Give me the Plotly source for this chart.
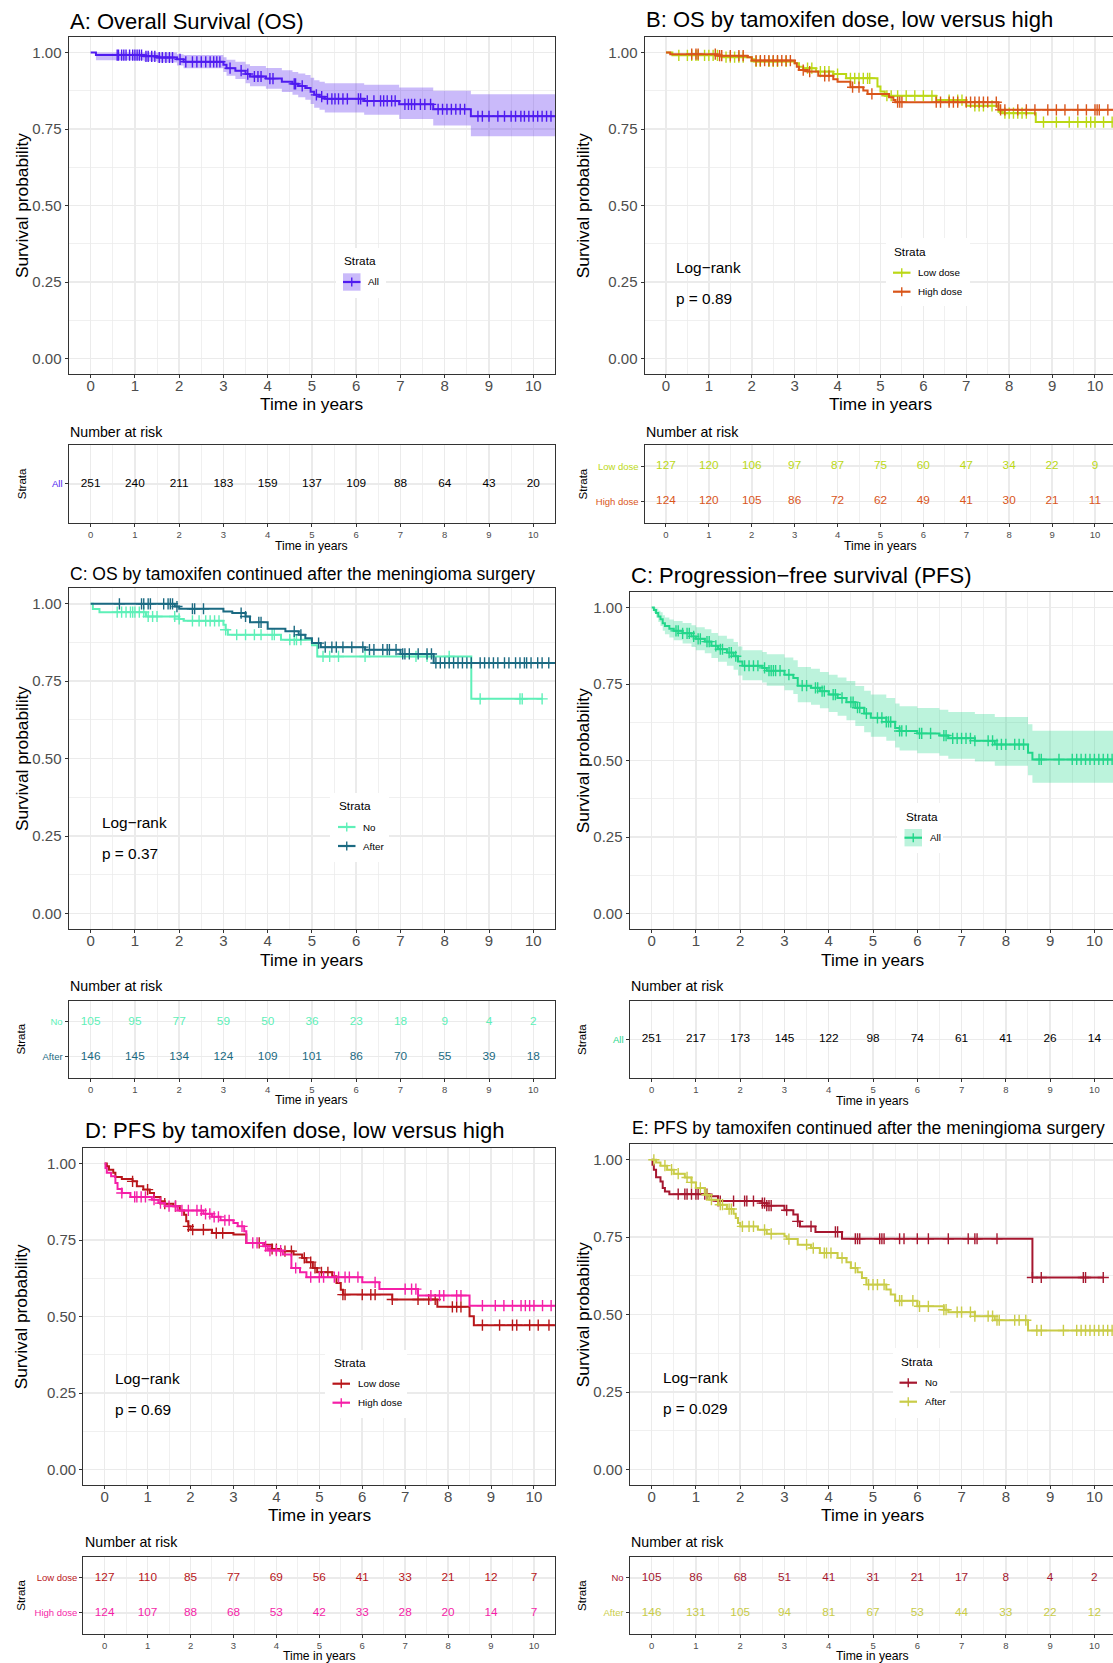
import numpy as np
import plotly.graph_objects as go

W, H = 1113, 1663
FONT = "Liberation Sans, Arial, Helvetica, sans-serif"

YEARS = list(range(11))
Y_TICKS = [0, 0.25, 0.5, 0.75, 1.0]
Y_LABELS = ["0.00", "0.25", "0.50", "0.75", "1.00"]

# ---------------- Panel A: Overall survival ----------------
A_t = [0.12, 1.2, 1.5, 1.95, 2.1, 3.0, 3.07, 3.27, 3.5, 3.6, 3.96, 4.32, 4.56, 4.69, 4.85, 4.97, 5.05, 5.17, 5.29, 6.18, 6.97, 7.74, 8.59]
A_s = [0.992, 0.988, 0.984, 0.978, 0.970, 0.960, 0.949, 0.941, 0.930, 0.922, 0.915, 0.905, 0.898, 0.891, 0.884, 0.872, 0.862, 0.856, 0.849, 0.842, 0.831, 0.815, 0.792]
A_lo = [0.975, 0.972, 0.968, 0.958, 0.949, 0.937, 0.924, 0.914, 0.900, 0.890, 0.882, 0.871, 0.862, 0.854, 0.846, 0.832, 0.820, 0.813, 0.804, 0.797, 0.783, 0.762, 0.727]
A_hi = [1.0, 1.0, 1.0, 0.995, 0.992, 0.985, 0.977, 0.970, 0.962, 0.956, 0.950, 0.942, 0.937, 0.932, 0.927, 0.918, 0.910, 0.905, 0.900, 0.895, 0.886, 0.875, 0.864]
A_cens = [0.6, 0.63, 0.7, 0.75, 0.8, 0.88, 0.95, 1.0, 1.05, 1.1, 1.15, 1.25, 1.3, 1.38, 1.45, 1.55, 1.62, 1.7, 1.78, 1.85, 2.02, 2.15, 2.3, 2.4, 2.5, 2.6, 2.7, 2.78, 2.85, 2.92, 3.15, 3.4, 3.55, 3.7, 3.78, 3.85, 4.05, 4.12, 4.6, 4.63, 4.78, 5.1, 5.22, 5.35, 5.45, 5.52, 5.6, 5.7, 5.8, 6.05, 6.1, 6.25, 6.4, 6.55, 6.62, 6.7, 6.8, 6.88, 7.1, 7.18, 7.25, 7.32, 7.45, 7.55, 7.68, 7.85, 7.95, 8.05, 8.15, 8.25, 8.35, 8.45, 8.75, 8.85, 9.0, 9.2, 9.35, 9.5, 9.6, 9.72, 9.8, 9.9, 10.0, 10.1, 10.2, 10.3, 10.4]
A_end = 10.8
A_risk = [251, 240, 211, 183, 159, 137, 109, 88, 64, 43, 20]

# ---------------- Panel B: OS by dose ----------------
B_low_t = [0.15, 1.3, 2.0, 2.05, 3.0, 3.1, 3.2, 3.5, 3.9, 4.2, 4.93, 5.0, 5.1, 6.3, 7.0, 7.75, 7.85, 8.62]
B_low_s = [0.991, 0.985, 0.978, 0.971, 0.965, 0.954, 0.949, 0.938, 0.930, 0.916, 0.889, 0.873, 0.859, 0.845, 0.826, 0.807, 0.802, 0.773]
B_low_cens = [0.3, 0.5, 0.6, 0.7, 0.75, 0.9, 1.0, 1.1, 1.2, 1.4, 1.5, 1.6, 1.7, 1.8, 2.1, 2.2, 2.4, 2.5, 2.6, 2.8, 3.3, 3.4, 3.6, 3.7, 3.8, 4.0, 4.3, 4.4, 4.5, 4.6, 4.7, 4.75, 5.15, 5.25, 5.4, 5.6, 5.8, 6.0, 6.2, 6.6, 6.8, 6.9, 7.2, 7.3, 7.4, 7.6, 7.9, 8.0, 8.1, 8.2, 8.3, 8.4, 8.8, 9.1, 9.4, 9.6, 9.8, 9.9, 10.0, 10.2, 10.4]
B_low_end = 10.6
B_high_t = [0.1, 1.2, 1.9, 2.0, 3.0, 3.05, 3.1, 3.3, 3.55, 3.9, 4.0, 4.3, 4.6, 4.7, 5.2, 5.3, 5.35, 7.75]
B_high_s = [0.995, 0.990, 0.985, 0.974, 0.965, 0.954, 0.943, 0.938, 0.924, 0.913, 0.905, 0.887, 0.876, 0.865, 0.854, 0.845, 0.838, 0.813]
B_high_cens = [0.6, 0.7, 0.75, 1.15, 1.25, 1.3, 1.5, 1.7, 1.8, 2.1, 2.2, 2.3, 2.4, 2.5, 2.6, 2.7, 2.8, 2.9, 3.2, 3.35, 3.7, 3.8, 4.35, 4.5, 4.8, 5.4, 5.45, 5.5, 6.3, 6.4, 6.6, 6.7, 6.8, 7.0, 7.1, 7.2, 7.3, 7.4, 7.5, 7.7, 7.8, 7.9, 8.2, 8.4, 8.6, 8.9, 9.1, 9.3, 9.6, 9.8, 10.0, 10.05, 10.1, 10.3]
B_high_end = 10.6
B_low_risk = [127, 120, 106, 97, 87, 75, 60, 47, 34, 22, 9]
B_high_risk = [124, 120, 105, 86, 72, 62, 49, 41, 30, 21, 11]

# ---------------- Panel C (left): OS by continuation ----------------
C_no_t = [0.05, 0.2, 1.25, 2.0, 2.1, 3.0, 3.05, 3.1, 4.3, 5.0, 5.12, 8.6]
C_no_s = [0.983, 0.973, 0.959, 0.951, 0.945, 0.932, 0.916, 0.900, 0.884, 0.866, 0.830, 0.693]
C_no_cens = [0.6, 0.7, 0.8, 0.9, 0.95, 1.0, 1.1, 1.2, 1.3, 1.4, 1.5, 1.9, 2.0, 2.3, 2.45, 2.6, 2.7, 2.8, 2.9, 3.05, 3.3, 3.5, 3.7, 3.85, 4.1, 4.15, 4.5, 4.6, 4.65, 4.75, 5.25, 5.4, 5.6, 6.2, 7.35, 7.6, 8.1, 8.8, 9.7, 9.75, 10.2]
C_no_end = 10.2
C_after_t = [1.9, 2.0, 3.0, 3.2, 3.5, 3.6, 4.0, 4.4, 4.7, 4.85, 5.0, 5.2, 6.2, 7.0, 7.75]
C_after_s = [0.991, 0.984, 0.975, 0.970, 0.959, 0.940, 0.919, 0.911, 0.900, 0.889, 0.873, 0.860, 0.852, 0.838, 0.809]
C_after_cens = [0.65, 1.15, 1.2, 1.3, 1.35, 1.65, 1.75, 1.8, 1.85, 1.95, 2.3, 2.35, 2.55, 3.4, 3.5, 3.8, 3.85, 4.6, 4.75, 5.15, 5.3, 5.45, 5.55, 5.7, 5.9, 6.15, 6.3, 6.4, 6.6, 6.7, 6.75, 6.9, 7.05, 7.1, 7.2, 7.4, 7.6, 7.7, 7.8, 7.9, 8.0, 8.1, 8.2, 8.3, 8.4, 8.5, 8.6, 8.8, 8.9, 9.0, 9.1, 9.2, 9.35, 9.45, 9.6, 9.7, 9.8, 9.85, 9.95, 10.1, 10.2, 10.35]
C_after_end = 10.8
C_no_risk = [105, 95, 77, 59, 50, 36, 23, 18, 9, 4, 2]
C_after_risk = [146, 145, 134, 124, 109, 101, 86, 70, 55, 39, 18]

# ---------------- Panel C (right): PFS overall ----------------
P_t = [0.05, 0.1, 0.15, 0.2, 0.25, 0.3, 0.4, 0.5, 0.7, 0.9, 1.0, 1.2, 1.35, 1.5, 1.7, 1.85, 1.95, 2.05, 2.5, 2.6, 3.0, 3.2, 3.3, 3.6, 3.8, 4.0, 4.2, 4.4, 4.6, 4.8, 4.95, 5.3, 5.5, 5.6, 6.0, 6.5, 6.7, 7.3, 7.75, 8.5, 8.6]
P_s = [0.992, 0.982, 0.971, 0.962, 0.949, 0.940, 0.931, 0.924, 0.916, 0.906, 0.898, 0.889, 0.875, 0.864, 0.853, 0.841, 0.824, 0.810, 0.803, 0.794, 0.781, 0.770, 0.745, 0.738, 0.727, 0.716, 0.705, 0.691, 0.673, 0.654, 0.640, 0.627, 0.607, 0.597, 0.589, 0.582, 0.573, 0.565, 0.553, 0.526, 0.504]
P_lo = [0.982, 0.968, 0.953, 0.940, 0.924, 0.913, 0.902, 0.893, 0.883, 0.871, 0.861, 0.851, 0.835, 0.823, 0.810, 0.797, 0.778, 0.763, 0.755, 0.745, 0.730, 0.718, 0.691, 0.683, 0.671, 0.659, 0.647, 0.632, 0.613, 0.593, 0.578, 0.565, 0.543, 0.533, 0.524, 0.516, 0.506, 0.497, 0.483, 0.452, 0.428]
P_hi = [1.0, 0.997, 0.990, 0.985, 0.975, 0.968, 0.961, 0.956, 0.950, 0.942, 0.936, 0.929, 0.917, 0.908, 0.898, 0.888, 0.873, 0.861, 0.855, 0.848, 0.837, 0.828, 0.806, 0.800, 0.790, 0.781, 0.772, 0.760, 0.744, 0.728, 0.716, 0.705, 0.687, 0.678, 0.672, 0.666, 0.659, 0.652, 0.643, 0.619, 0.598]
P_cens = [0.55, 0.6, 0.7, 0.8, 0.85, 0.95, 1.05, 1.1, 1.25, 1.3, 1.45, 1.55, 1.6, 1.75, 1.8, 1.9, 2.1, 2.2, 2.3, 2.4, 2.55, 2.65, 2.7, 2.75, 2.8, 2.9, 3.1, 3.4, 3.5, 3.7, 3.75, 3.85, 3.9, 4.1, 4.15, 4.3, 4.5, 4.55, 4.65, 4.7, 4.85, 5.1, 5.2, 5.3, 5.35, 5.4, 5.6, 5.65, 5.75, 6.05, 6.1, 6.3, 6.6, 6.65, 6.8, 6.9, 7.0, 7.1, 7.2, 7.3, 7.6, 7.7, 7.8, 7.9, 8.0, 8.2, 8.3, 8.4, 8.75, 8.8, 9.2, 9.5, 9.6, 9.7, 9.8, 9.9, 10.0, 10.1, 10.2, 10.3, 10.4]
P_end = 10.8
P_risk = [251, 217, 173, 145, 122, 98, 74, 61, 41, 26, 14]

# ---------------- Panel D: PFS by dose ----------------
D_low_t = [0.05, 0.1, 0.2, 0.25, 0.4, 0.65, 0.75, 0.9, 1.05, 1.15, 1.3, 1.4, 1.6, 1.75, 1.85, 1.9, 1.95, 2.0, 2.5, 3.0, 3.3, 3.7, 3.9, 4.1, 4.4, 4.6, 4.7, 4.85, 4.95, 5.3, 5.4, 5.5, 5.55, 6.7, 7.75, 8.5, 8.6]
D_low_s = [0.991, 0.980, 0.970, 0.956, 0.950, 0.942, 0.926, 0.915, 0.904, 0.891, 0.877, 0.869, 0.861, 0.847, 0.833, 0.812, 0.795, 0.784, 0.773, 0.768, 0.741, 0.735, 0.721, 0.714, 0.703, 0.692, 0.678, 0.659, 0.645, 0.632, 0.610, 0.588, 0.572, 0.556, 0.532, 0.501, 0.472]
D_low_cens = [0.65, 1.0, 1.4, 1.65, 1.95, 2.05, 2.3, 2.6, 2.75, 3.6, 3.9, 4.0, 4.2, 4.35, 4.65, 4.8, 4.9, 5.05, 5.2, 5.55, 5.6, 6.0, 6.2, 6.3, 6.7, 7.3, 7.55, 7.7, 8.1, 8.2, 8.3, 8.8, 9.2, 9.5, 9.6, 9.9, 10.1, 10.35]
D_low_end = 10.6
D_high_t = [0.02, 0.05, 0.15, 0.25, 0.3, 0.4, 0.6, 1.1, 1.25, 1.4, 1.7, 2.3, 2.5, 2.7, 3.0, 3.1, 3.25, 3.3, 3.7, 3.8, 4.15, 4.35, 4.55, 4.7, 6.0, 6.4, 7.3, 8.5]
D_high_s = [0.986, 0.970, 0.959, 0.937, 0.917, 0.904, 0.891, 0.882, 0.871, 0.861, 0.847, 0.836, 0.826, 0.815, 0.806, 0.795, 0.779, 0.741, 0.730, 0.716, 0.703, 0.659, 0.645, 0.629, 0.612, 0.590, 0.569, 0.536]
D_high_cens = [0.4, 0.7, 0.75, 0.85, 0.95, 1.15, 1.3, 1.5, 1.65, 1.8, 1.95, 2.15, 2.25, 2.35, 2.45, 2.55, 2.65, 2.8, 2.9, 3.2, 3.45, 3.55, 3.75, 3.85, 4.0, 4.1, 4.45, 4.8, 5.0, 5.1, 5.35, 5.45, 5.6, 5.7, 5.9, 6.3, 7.0, 7.15, 7.25, 7.6, 7.8, 7.9, 8.2, 8.3, 8.8, 9.1, 9.3, 9.5, 9.7, 9.8, 9.9, 10.0, 10.2, 10.4]
D_high_end = 10.6
D_low_risk = [127, 110, 85, 77, 69, 56, 41, 33, 21, 12, 7]
D_high_risk = [124, 107, 88, 68, 53, 42, 33, 28, 20, 14, 7]

# ---------------- Panel E: PFS by continuation ----------------
E_no_t = [0.02, 0.05, 0.1, 0.2, 0.25, 0.3, 0.4, 1.3, 1.5, 2.5, 2.6, 3.0, 3.2, 3.3, 3.35, 3.7, 4.3, 8.6]
E_no_s = [0.984, 0.968, 0.944, 0.930, 0.909, 0.898, 0.889, 0.882, 0.867, 0.860, 0.852, 0.837, 0.823, 0.801, 0.785, 0.767, 0.745, 0.620]
E_no_cens = [0.6, 0.75, 0.8, 0.9, 1.0, 1.05, 1.2, 1.25, 1.5, 1.55, 1.85, 2.1, 2.15, 2.3, 2.5, 2.55, 2.6, 2.65, 2.7, 3.05, 3.3, 3.6, 4.15, 4.2, 4.6, 4.65, 4.7, 5.15, 5.2, 5.25, 5.6, 5.7, 6.0, 6.25, 6.7, 7.15, 7.3, 7.35, 7.8, 8.6, 8.8, 9.75, 9.8, 10.2]
E_no_end = 10.2
E_after_t = [0.1, 0.2, 0.35, 0.5, 0.75, 0.9, 1.0, 1.2, 1.3, 1.5, 1.7, 1.85, 1.9, 1.95, 2.0, 2.4, 2.6, 3.0, 3.05, 3.3, 3.6, 3.8, 4.2, 4.4, 4.5, 4.65, 4.75, 4.85, 5.3, 5.4, 5.5, 6.0, 6.6, 6.7, 7.3, 7.75, 8.5]
E_after_s = [0.991, 0.981, 0.968, 0.955, 0.943, 0.927, 0.909, 0.887, 0.871, 0.855, 0.841, 0.826, 0.812, 0.796, 0.785, 0.774, 0.761, 0.753, 0.744, 0.726, 0.715, 0.699, 0.683, 0.669, 0.651, 0.637, 0.618, 0.597, 0.581, 0.565, 0.545, 0.527, 0.516, 0.508, 0.495, 0.482, 0.449]
E_after_cens = [0.05, 0.3, 0.45, 0.6, 0.8, 0.9, 1.1, 1.25, 1.35, 1.55, 1.6, 1.75, 1.8, 2.05, 2.2, 2.3, 2.55, 2.7, 3.1, 3.5, 3.65, 3.9, 3.95, 4.05, 4.3, 4.6, 4.9, 5.0, 5.1, 5.25, 5.6, 5.65, 5.9, 6.05, 6.25, 6.6, 6.65, 6.9, 7.0, 7.2, 7.3, 7.6, 7.7, 7.8, 7.85, 8.2, 8.3, 8.45, 8.7, 8.8, 9.3, 9.6, 9.7, 9.8, 9.9, 10.0, 10.1, 10.2, 10.3, 10.4]
E_after_end = 10.6
E_no_risk = [105, 86, 68, 51, 41, 31, 21, 17, 8, 4, 2]
E_after_risk = [146, 131, 105, 94, 81, 67, 53, 44, 33, 22, 12]

# ---------------- colours ----------------
COL_A = "#4F1BF0"
COL_B_LOW, COL_B_HIGH = "#BBD816", "#D9551A"
COL_C_NO, COL_C_AFTER = "#5EF0B8", "#1B6A82"
COL_P = "#22D68A"
COL_D_LOW, COL_D_HIGH = "#B8161A", "#F51FA8"
COL_E_NO, COL_E_AFTER = "#A6172F", "#C9CC48"

GRID = "#EBEBEB"
BORDER = "#333333"
TICKC = "#4D4D4D"

fig = go.Figure()
ANN, SHP = [], []


def fx(p):
    return p / W


def fy(p):
    return 1 - p / H


def names(n):
    s = "" if n == 1 else str(n)
    return "x" + s, "y" + s, "xaxis" + s, "yaxis" + s


def hexrgba(h, a):
    h = h.lstrip("#")
    return f"rgba({int(h[0:2],16)},{int(h[2:4],16)},{int(h[4:6],16)},{a})"


def setup(n, x0, x1, y0, y1, xmax, right, yrange, yvals, ytext, xfont, yfont, yminor, xstand):
    xa, ya, xk, yk = names(n)
    xaxis = dict(domain=[fx(x0), fx(x1)], range=[-0.5, xmax], anchor=ya,
                 tickmode="array", tickvals=YEARS, ticktext=[str(v) for v in YEARS],
                 ticks="outside", ticklen=3, tickwidth=1, tickcolor=BORDER,
                 ticklabelstandoff=xstand,
                 showline=True, linecolor=BORDER, linewidth=1, mirror=True,
                 showgrid=True, gridcolor=GRID, gridwidth=1.5, zeroline=False,
                 tickfont=dict(family=FONT, size=xfont, color=TICKC),
                 minor=dict(tickmode="array", tickvals=[i + 0.5 for i in range(-1, 11)],
                            showgrid=True, gridcolor=GRID, gridwidth=0.75, ticks=""),
                 fixedrange=True)
    yaxis = dict(domain=[fy(y1), fy(y0)], range=yrange, anchor=xa,
                 tickmode="array", tickvals=yvals, ticktext=ytext,
                 ticks="outside", ticklen=3, tickwidth=1, tickcolor=BORDER,
                 showline=True, linecolor=BORDER, linewidth=1, mirror=(not right),
                 showgrid=True, gridcolor=GRID, gridwidth=1.5, zeroline=False,
                 tickfont=dict(family=FONT, size=yfont, color=TICKC), fixedrange=True)
    if yminor:
        yaxis["minor"] = dict(tickmode="array", tickvals=yminor, showgrid=True,
                              gridcolor=GRID, gridwidth=0.75, ticks="")
    fig.update_layout(**{xk: xaxis, yk: yaxis})


def km(n, times, surv, cens, end, color, lo=None, hi=None):
    xa, ya, _, _ = names(n)
    xs = [0] + list(times) + [end]
    if lo is not None:
        fig.add_trace(go.Scatter(x=xs, y=[1] + list(lo) + [lo[-1]], mode="lines",
                                 line=dict(width=0, shape="hv"), xaxis=xa, yaxis=ya,
                                 showlegend=False, hoverinfo="skip"))
        fig.add_trace(go.Scatter(x=xs, y=[1] + list(hi) + [hi[-1]], mode="lines",
                                 line=dict(width=0, shape="hv"), fill="tonexty",
                                 fillcolor=hexrgba(color, 0.3), xaxis=xa, yaxis=ya,
                                 showlegend=False, hoverinfo="skip"))
    fig.add_trace(go.Scatter(x=xs, y=[1] + list(surv) + [surv[-1]], mode="lines",
                             line=dict(color=color, width=2, shape="hv"),
                             xaxis=xa, yaxis=ya, showlegend=False, hoverinfo="skip"))
    tarr = np.array(times)
    cy = []
    for c in cens:
        i = int(np.searchsorted(tarr, c, side="right"))
        cy.append(1.0 if i == 0 else surv[i - 1])
    fig.add_trace(go.Scatter(x=cens, y=cy, mode="markers",
                             marker=dict(symbol="cross-thin", size=8, color=color,
                                         line=dict(width=1.4, color=color)),
                             xaxis=xa, yaxis=ya, showlegend=False, hoverinfo="skip"))


def text(x, y, s, size, color="black", xanchor="left", angle=0):
    ANN.append(dict(x=fx(x), y=fy(y), xref="paper", yref="paper", text=s,
                    showarrow=False, xanchor=xanchor, yanchor="middle", textangle=angle,
                    borderpad=0, font=dict(family=FONT, size=size, color=color)))


def risk(n, rows, num_colors):
    xa, ya, _, _ = names(n)
    k = len(rows)
    for i, vals in enumerate(rows):
        fig.add_trace(go.Scatter(x=YEARS, y=[k - i] * len(YEARS), mode="text",
                                 text=[str(v) for v in vals],
                                 textfont=dict(family=FONT, size=11.8, color=num_colors[i]),
                                 xaxis=xa, yaxis=ya, showlegend=False, hoverinfo="skip"))


def legend(xl, yt, items, ribbon=None, bg=None):
    if bg:
        SHP.append(dict(type="rect", xref="paper", yref="paper", x0=fx(bg[0]), x1=fx(bg[1]),
                        y0=fy(bg[3]), y1=fy(bg[2]), fillcolor="white", line=dict(width=0),
                        layer="above"))
    text(xl, yt, "Strata", 11.8)
    for i, (lab, col) in enumerate(items):
        yy = yt + 21 + 19 * i
        if ribbon:
            SHP.append(dict(type="rect", xref="paper", yref="paper", x0=fx(xl), x1=fx(xl + 17.5),
                            y0=fy(yy + 8.7), y1=fy(yy - 8.7), fillcolor=ribbon,
                            line=dict(width=0), layer="above"))
        SHP.append(dict(type="line", xref="paper", yref="paper", x0=fx(xl), x1=fx(xl + 17.5),
                        y0=fy(yy), y1=fy(yy), line=dict(color=col, width=2.2), layer="above"))
        SHP.append(dict(type="line", xref="paper", yref="paper", x0=fx(xl + 8.75), x1=fx(xl + 8.75),
                        y0=fy(yy - 4.5), y1=fy(yy + 4.5), line=dict(color=col, width=1.4),
                        layer="above"))
        text(xl + 24, yy, lab, 9.8)


def span(lab, col):
    return f'<span style="color:{col}">{lab}</span>'


YMINOR = [0.125, 0.375, 0.625, 0.875]
XR_L, XR_R = 10.5, 10.42

# ---------- main panels ----------
main_geo = {
    1: (68.5, 555.4, 37.3, 374.0, XR_L, False),
    2: (644.5, 1113, 37.3, 374.0, XR_R, True),
    3: (68.5, 555.4, 588.3, 929.0, XR_L, False),
    4: (629.5, 1113, 592.3, 929.0, XR_R, True),
    5: (83.2, 555.4, 1148.3, 1485.0, XR_L, False),
    6: (629.5, 1113, 1144.3, 1485.0, XR_R, True),
}
for n, (x0, x1, y0, y1, xm, right) in main_geo.items():
    setup(n, x0, x1, y0, y1, xm, right, [-0.05, 1.05], Y_TICKS, Y_LABELS, 15, 15, YMINOR, -5)

km(1, A_t, A_s, A_cens, A_end, COL_A, A_lo, A_hi)
km(2, B_low_t, B_low_s, B_low_cens, B_low_end, COL_B_LOW)
km(2, B_high_t, B_high_s, B_high_cens, B_high_end, COL_B_HIGH)
km(3, C_no_t, C_no_s, C_no_cens, C_no_end, COL_C_NO)
km(3, C_after_t, C_after_s, C_after_cens, C_after_end, COL_C_AFTER)
km(4, P_t, P_s, P_cens, P_end, COL_P, P_lo, P_hi)
km(5, D_low_t, D_low_s, D_low_cens, D_low_end, COL_D_LOW)
km(5, D_high_t, D_high_s, D_high_cens, D_high_end, COL_D_HIGH)
km(6, E_no_t, E_no_s, E_no_cens, E_no_end, COL_E_NO)
km(6, E_after_t, E_after_s, E_after_cens, E_after_end, COL_E_AFTER)

# ---------- risk tables ----------
risk_geo = {
    7: (68.5, 555.4, 445.0, 522.7, XR_L, False, ["All"], [COL_A]),
    8: (644.5, 1113, 445.0, 522.7, XR_R, True, ["Low dose", "High dose"], [COL_B_LOW, COL_B_HIGH]),
    9: (68.5, 555.4, 1000.7, 1077.7, XR_L, False, ["No", "After"], [COL_C_NO, COL_C_AFTER]),
    10: (629.5, 1113, 1000.7, 1078.0, XR_R, True, ["All"], [COL_P]),
    11: (83.2, 555.4, 1556.7, 1634.0, XR_L, False, ["Low dose", "High dose"], [COL_D_LOW, COL_D_HIGH]),
    12: (629.5, 1113, 1556.7, 1634.0, XR_R, True, ["No", "After"], [COL_E_NO, COL_E_AFTER]),
}
for n, (x0, x1, y0, y1, xm, right, labs, cols) in risk_geo.items():
    k = len(labs)
    setup(n, x0, x1, y0, y1, xm, right, [0.4, k + 0.6], [k - i for i in range(k)],
          [span(l, c) for l, c in zip(labs, cols)], 9.5, 9.5, None, 0)

risk(7, [A_risk], ["black"])
risk(8, [B_low_risk, B_high_risk], [COL_B_LOW, COL_B_HIGH])
risk(9, [C_no_risk, C_after_risk], [COL_C_NO, COL_C_AFTER])
risk(10, [P_risk], ["black"])
risk(11, [D_low_risk, D_high_risk], [COL_D_LOW, COL_D_HIGH])
risk(12, [E_no_risk, E_after_risk], [COL_E_NO, COL_E_AFTER])

# ---------- titles ----------
text(69, 21, "A: Overall Survival (OS)", 22)
text(644.8, 20, "B: OS by tamoxifen dose, low versus high", 22)
text(69, 574.5, "C: OS by tamoxifen continued after the meningioma surgery", 17.5)
text(630, 575, "C: Progression\u2212free survival (PFS)", 22)
text(84, 1130.7, "D: PFS by tamoxifen dose, low versus high", 22)
text(630.6, 1128.3, "E: PFS by tamoxifen continued after the meningioma surgery", 17.5)

# axis titles for main panels
full_x = {1: (68.5, 555.4), 2: (644.5, 1116.3), 3: (68.5, 555.4), 4: (629.5, 1116.0),
          5: (83.2, 555.4), 6: (629.5, 1116.0)}
xtitle_y = {1: 404, 2: 404, 3: 959.5, 4: 959.5, 5: 1514.5, 6: 1514.5}
ytitle_x = {1: 21.4, 2: 582.6, 3: 21.4, 4: 582.6, 5: 20.7, 6: 582.6}
for n in range(1, 7):
    x0, x1 = full_x[n]
    y0, y1 = main_geo[n][2], main_geo[n][3]
    text((x0 + x1) / 2, xtitle_y[n], "Time in years", 17.3, xanchor="center")
    text(ytitle_x[n], (y0 + y1) / 2, "Survival probability", 17.3, xanchor="center", angle=-90)

# risk table titles
risk_full_x = {7: (68.5, 555.4), 8: (644.5, 1116.3), 9: (68.5, 555.4), 10: (629.5, 1116.0),
               11: (83.2, 555.4), 12: (629.5, 1116.0)}
risk_title_y = {7: 431.7, 8: 431.7, 9: 986, 10: 986, 11: 1542.3, 12: 1542.3}
risk_xt_y = {7: 546, 8: 546, 9: 1100, 10: 1100.5, 11: 1656.0, 12: 1656.0}
strata_x = {7: 21.4, 8: 582.6, 9: 21.4, 10: 582.6, 11: 21.4, 12: 582.6}
for n in range(7, 13):
    x0, x1 = risk_full_x[n]
    y0, y1 = risk_geo[n][2], risk_geo[n][3]
    text(x0 + 0.5, risk_title_y[n], "Number at risk", 14.2)
    text((x0 + x1) / 2, risk_xt_y[n], "Time in years", 12.2, xanchor="center")
    text(strata_x[n], (y0 + y1) / 2, "Strata", 11.5, xanchor="center", angle=-90)

# log-rank annotations
for (x, y1, y2, p) in [(675, 267.7, 298.3, "p = 0.89"), (100.7, 822.3, 853.3, "p = 0.37"),
                       (113.6, 1378.3, 1409.3, "p = 0.69"), (661.5, 1377.3, 1408.3, "p = 0.029")]:
    text(x, y1, "Log\u2212rank", 15.4)
    text(x, y2, p, 15.4)

# legends
legend(343, 261, [("All", COL_A)], ribbon=hexrgba(COL_A, 0.3), bg=(336, 386, 248, 298))
legend(893, 251.7, [("Low dose", COL_B_LOW), ("High dose", COL_B_HIGH)], bg=(886, 970, 238, 306))
legend(338, 806, [("No", COL_C_NO), ("After", COL_C_AFTER)], bg=(330, 389, 793, 862))
legend(904.5, 816.7, [("All", COL_P)], ribbon=hexrgba(COL_P, 0.3), bg=(897, 943, 803, 853))
legend(332.5, 1362.7, [("Low dose", COL_D_LOW), ("High dose", COL_D_HIGH)], bg=(325, 407, 1350, 1418))
legend(899.5, 1361.7, [("No", COL_E_NO), ("After", COL_E_AFTER)], bg=(893, 950, 1348, 1418))

fig.update_layout(width=W, height=H, autosize=False,
                  margin=dict(l=0, r=0, t=0, b=0, pad=0),
                  paper_bgcolor="white", plot_bgcolor="white",
                  showlegend=False, annotations=ANN, shapes=SHP,
                  font=dict(family=FONT))

fig.write_html("out.html",
               config={"displayModeBar": False, "staticPlot": True},
               post_script="document.body.style.margin='0px';"
                           "document.body.style.padding='0px';"
                           "document.body.style.overflow='hidden';")
